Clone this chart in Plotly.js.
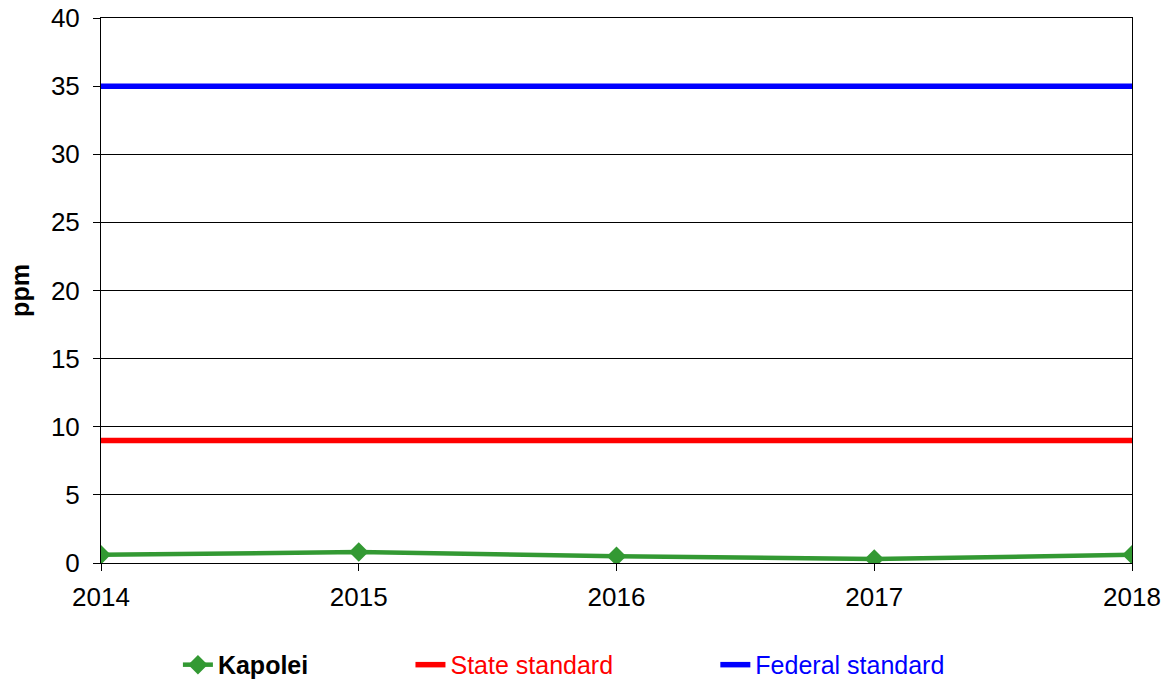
<!DOCTYPE html>
<html>
<head>
<meta charset="utf-8">
<script src="https://cdn.plot.ly/plotly-3.0.1.min.js"></script>
<style>html,body{margin:0;padding:0;background:#fff;}#chart{width:1166px;height:682px;}</style>
</head>
<body>
<div id="chart"></div>
<script>
const years = [2014, 2015, 2016, 2017, 2018];
const kapolei = [0.6, 0.8, 0.5, 0.3, 0.6];
const stateStandard = [9, 9, 9, 9, 9];
const federalStandard = [35, 35, 35, 35, 35];
const yTicks = [0, 5, 10, 15, 20, 25, 30, 35, 40];
const seriesNames = ["Kapolei", "State standard", "Federal standard"];

const font = "Liberation Sans, Arial, sans-serif";
const pad = "\u00a0".repeat(14);

const traces = [
  {
    x: years, y: kapolei, name: "<b>" + seriesNames[0] + "</b>" + pad, type: "scatter", mode: "lines+markers",
    line: {color: "#339933", width: 4.5},
    marker: {symbol: "diamond", size: 15, color: "#339933"}
  },
  {
    x: years, y: stateStandard, name: '<span style="color:#ff0000">' + seriesNames[1] + '</span>' + pad, type: "scatter", mode: "lines",
    line: {color: "#ff0000", width: 5.5}
  },
  {
    x: years, y: federalStandard, name: '<span style="color:#0000ff">' + seriesNames[2] + '</span>', type: "scatter", mode: "lines",
    line: {color: "#0000ff", width: 5.5}
  }
];

const layout = {
  width: 1166, height: 682,
  margin: {l: 101, r: 34, t: 18, b: 119, autoexpand: false},
  paper_bgcolor: "#fff", plot_bgcolor: "#fff",
  font: {family: font, size: 26, color: "#000"},
  showlegend: true,
  legend: {
    orientation: "h", x: 0.0746, xanchor: "left", y: -0.187, yanchor: "middle",
    font: {family: font, size: 25, color: "#000"},
    traceorder: "normal", bgcolor: "rgba(0,0,0,0)"
  },
  xaxis: {
    range: [2014, 2018], tickvals: years, ticktext: years.map(String),
    showgrid: false, zeroline: false,
    showline: true, linecolor: "#000", linewidth: 1, mirror: true,
    ticks: "outside", ticklen: 7, tickcolor: "#000",
    ticklabelstandoff: 4,
    tickfont: {family: font, size: 26, color: "#000"}
  },
  yaxis: {
    range: [0, 40], tickvals: yTicks,
    showgrid: true, gridcolor: "#000", gridwidth: 1, zeroline: false,
    showline: true, linecolor: "#000", linewidth: 1, mirror: true,
    ticks: "outside", ticklen: 7, tickcolor: "#000",
    ticklabelstandoff: 8,
    tickfont: {family: font, size: 26, color: "#000"},
    title: {text: "<b>ppm</b>", font: {family: font, size: 25, color: "#000"}, standoff: 14}
  }
};

Plotly.newPlot("chart", traces, layout, {displayModeBar: false, staticPlot: true});
</script>
</body>
</html>
